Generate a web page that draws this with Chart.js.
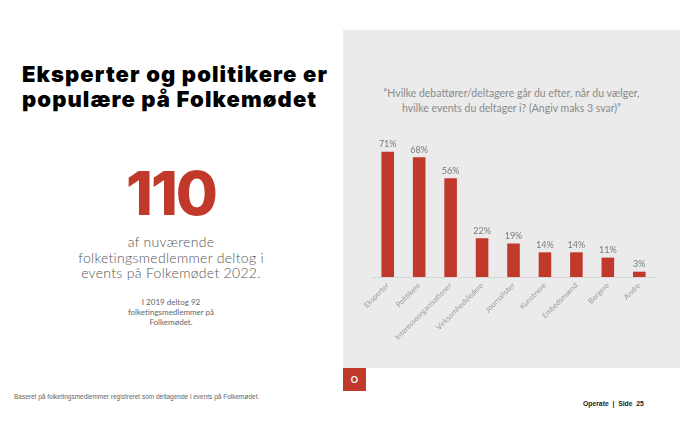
<!DOCTYPE html>
<html>
<head>
<meta charset="utf-8">
<script src="https://cdn.jsdelivr.net/npm/chart.js@4/dist/chart.umd.min.js"></script>
<style>
  html, body { margin: 0; padding: 0; background: #fff; }
  body { width: 680px; height: 439px; position: relative; overflow: hidden; font-family: "Lato", "Open Sans", sans-serif; }
  .abs { position: absolute; }
  #title { left: 22px; top: 62px; font-family: "Inter", "Roboto", sans-serif; font-weight: 900; font-size: 22px; line-height: 25px; color: #000; letter-spacing: 1.1px; white-space: nowrap; }
  #big { left: 71px; width: 200px; top: 158px; text-align: center; font-family: "Inter", "Roboto", sans-serif; font-weight: 800; font-size: 61px; line-height: 70px; color: #c0392b; letter-spacing: -2px; }
  #desc { left: 51px; width: 240px; top: 234px; text-align: center; font-size: 14px; line-height: 15.5px; color: #555; font-weight: 300; letter-spacing: 0.3px; }
  #note { left: 96px; width: 150px; top: 297px; text-align: center; font-size: 8px; line-height: 10px; color: #666; font-weight: 400; }
  #panel { left: 343px; top: 30px; width: 337px; height: 338px; background: #ebebeb; }
  #question { left: 343px; top: 86px; width: 337px; text-align: center; font-size: 10.5px; line-height: 15px; color: #8a8a8a; }
  #logo { left: 343px; top: 368px; width: 23px; height: 23px; background: #c0392b; color: #fff; font-size: 9px; line-height: 23px; text-align: center; font-weight: bold; }
  #source { left: 14px; top: 393px; font-size: 6.5px; color: #666; font-family: "Liberation Sans", sans-serif; }
  #page { left: 583px; top: 400px; font-size: 6.8px; color: #222; font-family: "Liberation Sans Narrow", "Liberation Sans", sans-serif; font-weight: bold; }
  #chartWrap { left: 343px; top: 120px; width: 337px; height: 248px; }
</style>
</head>
<body>
<div id="panel" class="abs"></div>
<div id="title" class="abs">Eksperter og politikere er<br>populære på Folkemødet</div>
<div id="big" class="abs">110</div>
<div id="desc" class="abs">af nuværende<br>folketingsmedlemmer deltog i<br>events på Folkemødet 2022.</div>
<div id="note" class="abs">I 2019 deltog 92<br>folketingsmedlemmer på<br>Folkemødet.</div>
<div id="question" class="abs">“Hvilke debattører/deltagere går du efter, når du vælger,<br>hvilke events du deltager i? (Angiv maks 3 svar)”</div>
<div id="chartWrap" class="abs"><canvas id="chart"></canvas></div>
<div id="logo" class="abs">O</div>
<div id="source" class="abs">Baseret på folketingsmedlemmer registreret som deltagende i events på Folkemødet.</div>
<div id="page" class="abs">Operate&nbsp; |&nbsp; Side&nbsp; 25</div>

<script>
"use strict";

const categories = ["Eksperter", "Politikere", "Interesseorganisationer", "Virksomhedsledere",
  "Journalister", "Kunstnere", "Embedsmænd", "Borgere", "Andre"];
const shares = [71, 68, 56, 22, 19, 14, 14, 11, 3];

// draws "71%" etc above each bar
const valueLabels = {
  id: "valueLabels",
  afterDatasetsDraw(chart) {
    const ctx = chart.ctx;
    const meta = chart.getDatasetMeta(0);
    ctx.save();
    ctx.font = "9px Lato, sans-serif";
    ctx.fillStyle = "#7a7a7a";
    ctx.textAlign = "center";
    ctx.textBaseline = "bottom";
    meta.data.forEach((bar, i) => {
      ctx.fillText(shares[i] + "%", bar.x, bar.y - 3);
    });
    ctx.restore();
  },
};

new Chart(document.getElementById("chart").getContext("2d"), {
  type: "bar",
  data: {
    labels: categories,
    datasets: [{
      data: shares,
      backgroundColor: "#c0392b",
      borderWidth: 0,
      categoryPercentage: 1,
      barPercentage: 0.4,
    }],
  },
  options: {
    responsive: true,
    maintainAspectRatio: false,
    animation: false,
    layout: { padding: { top: 16, left: 29, right: 25, bottom: 0 } },
    plugins: {
      legend: { display: false },
      tooltip: { enabled: false },
    },
    scales: {
      y: { display: false, min: 0, max: 80 },
      x: {
        grid: { display: false, drawTicks: false },
        border: { display: true, color: "#d6d6d6", width: 1 },
        ticks: {
          color: "#9a9a9a",
          font: { size: 7.5, family: "Lato, sans-serif" },
          minRotation: 45,
          maxRotation: 45,
          padding: 4,
          autoSkip: false,
        },
        afterFit(scale) { scale.height = 91; },
      },
    },
  },
  plugins: [valueLabels],
});
</script>
</body>
</html>
